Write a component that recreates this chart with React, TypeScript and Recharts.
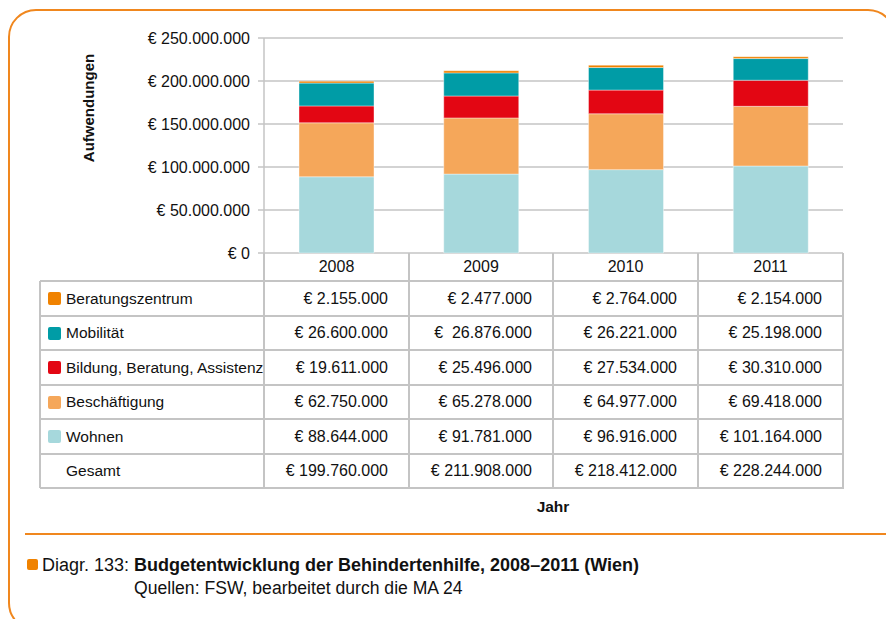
import { BarChart, Bar, XAxis, YAxis, CartesianGrid } from "recharts";

const years = ["2008", "2009", "2010", "2011"];
const beratungszentrum = [2155000, 2477000, 2764000, 2154000];
const mobilitaet = [26600000, 26876000, 26221000, 25198000];
const bildung = [19611000, 25496000, 27534000, 30310000];
const beschaeftigung = [62750000, 65278000, 64977000, 69418000];
const wohnen = [88644000, 91781000, 96916000, 101164000];
const gesamt = [199760000, 211908000, 218412000, 228244000];
const yTicks = [0, 50000000, 100000000, 150000000, 200000000, 250000000];

const FONT = '"Liberation Sans", Arial, sans-serif';
const ORANGE = "#F0871E";
const GRID = "#c4c4c4";

// table order (top of the stack first)
const series = [
  { key: "beratungszentrum", name: "Beratungszentrum", color: "#F08200", values: beratungszentrum },
  { key: "mobilitaet", name: "Mobilität", color: "#009CA6", values: mobilitaet },
  { key: "bildung", name: "Bildung, Beratung, Assistenz", color: "#E30613", values: bildung },
  { key: "beschaeftigung", name: "Beschäftigung", color: "#F5A75A", values: beschaeftigung },
  { key: "wohnen", name: "Wohnen", color: "#A6D8DC", values: wohnen },
];

const data = years.map((year, i) => ({
  year,
  wohnen: wohnen[i],
  beschaeftigung: beschaeftigung[i],
  bildung: bildung[i],
  mobilitaet: mobilitaet[i],
  beratungszentrum: beratungszentrum[i],
}));

const euro = (v: number) => (v === 0 ? "€ 0" : "€ " + String(v).replace(/\B(?=(\d{3})+(?!\d))/g, "."));

// table grid
const colX = [40, 264, 409, 553, 698, 843];
const rowY = [253, 281, 316, 350, 385, 419, 454, 488];

export default function App() {
  const rows = [
    ...series.map((s) => ({ label: s.name, color: s.color as string | null, values: s.values, key: s.key })),
    { label: "Gesamt", color: null, values: gesamt, key: "gesamt" },
  ];

  const hLine = (y: number, x1: number, x2: number, k: string) => (
    <div key={k} style={{ position: "absolute", left: x1, top: y - 1, width: x2 - x1 + 1, height: 1.5, background: GRID }} />
  );
  const vLine = (x: number, y1: number, y2: number, k: string) => (
    <div key={k} style={{ position: "absolute", left: x - 1, top: y1, width: 1.5, height: y2 - y1, background: GRID }} />
  );

  return (
    <div style={{ position: "relative", width: 886, height: 619, overflow: "hidden", fontFamily: FONT, color: "#111", background: "#fff" }}>
      <style>{"body{margin:0}"}</style>
      <div style={{ position: "absolute", left: 8, top: 9, width: 888, height: 622, border: `2px solid ${ORANGE}`, borderRadius: 28, boxSizing: "border-box" }} />

      <div style={{ position: "absolute", left: 0, top: 0 }}>
        <BarChart width={886} height={619} data={data} margin={{ top: 38, right: 43, bottom: 366, left: 144 }} barSize={75}>
          <CartesianGrid vertical={false} stroke={GRID} strokeWidth={1.5} />
          <XAxis dataKey="year" hide />
          <YAxis
            width={120}
            domain={[0, 250000000]}
            ticks={yTicks}
            tickFormatter={euro}
            tick={{ fontSize: 16, fill: "#111", fontFamily: FONT }}
            tickSize={6}
            tickMargin={8}
            axisLine={{ stroke: GRID, strokeWidth: 1.5 }}
            tickLine={{ stroke: GRID, strokeWidth: 1.5 }}
          />
          {[...series].reverse().map((s) => (
            <Bar key={s.key} dataKey={s.key} stackId="a" fill={s.color} stroke="rgba(255,255,255,0.5)" strokeWidth={0.8} isAnimationActive={false} />
          ))}
        </BarChart>
      </div>

      <div style={{ position: "absolute", left: 88, top: 108, transform: "translate(-50%, -50%) rotate(-90deg)", fontWeight: "bold", fontSize: 15, whiteSpace: "nowrap" }}>
        Aufwendungen
      </div>

      {/* table lines */}
      {colX.slice(1).map((x, i) => vLine(x, rowY[0], rowY[7], "v" + i))}
      {vLine(colX[0], rowY[1], rowY[7], "v-first")}
      {rowY.slice(1).map((y, i) => hLine(y, colX[0], colX[5], "h" + i))}

      {/* header */}
      {years.map((y, i) => (
        <div key={y} style={{ position: "absolute", left: colX[i + 1], width: colX[i + 2] - colX[i + 1], top: rowY[0], height: rowY[1] - rowY[0], display: "flex", alignItems: "center", justifyContent: "center", fontSize: 16 }}>
          {y}
        </div>
      ))}

      {rows.map((r, ri) => {
        const top = rowY[ri + 1];
        const h = rowY[ri + 2] - top;
        return (
          <div key={r.key}>
            {r.color && (
              <div style={{ position: "absolute", left: 48, top: top + h / 2 - 6.5, width: 13, height: 13, borderRadius: 2, background: r.color }} />
            )}
            <div style={{ position: "absolute", left: 66, top, height: h, display: "flex", alignItems: "center", fontSize: 15.5, whiteSpace: "nowrap" }}>
              {r.label}
            </div>
            {r.values.map((v, i) => (
              <div key={i} style={{ position: "absolute", right: 886 - (colX[i + 2] - 21), top, height: h, display: "flex", alignItems: "center", fontSize: 16, whiteSpace: "pre" }}>
                {r.key === "mobilitaet" && i === 1 ? euro(v).replace("€ ", "€  ") : euro(v)}
              </div>
            ))}
          </div>
        );
      })}

      <div style={{ position: "absolute", left: 553, top: 507, transform: "translate(-50%, -50%)", fontWeight: "bold", fontSize: 15.5 }}>Jahr</div>

      <div style={{ position: "absolute", left: 25, top: 533, width: 870, height: 2, background: ORANGE }} />

      <div style={{ position: "absolute", left: 27, top: 559, width: 11, height: 11, borderRadius: 2, background: "#F08200" }} />
      <div style={{ position: "absolute", left: 42, top: 554, fontSize: 18, whiteSpace: "nowrap", lineHeight: "22px" }}>
        Diagr. 133: <b>Budgetentwicklung der Behindertenhilfe, 2008–2011 (Wien)</b>
      </div>
      <div style={{ position: "absolute", left: 134, top: 577, fontSize: 17.6, whiteSpace: "nowrap", lineHeight: "22px" }}>
        Quellen: FSW, bearbeitet durch die MA 24
      </div>
    </div>
  );
}
